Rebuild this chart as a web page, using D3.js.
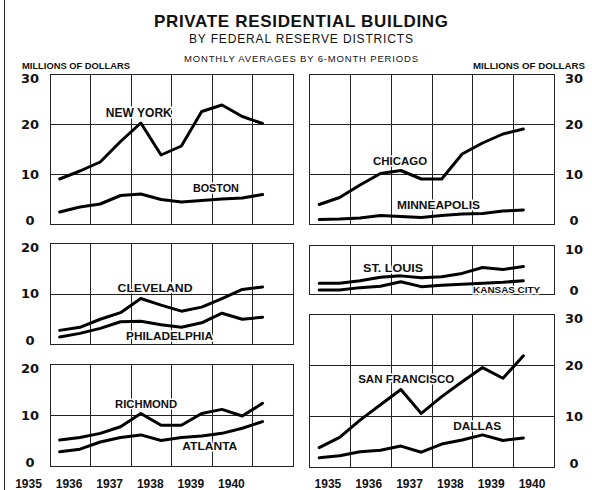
<!DOCTYPE html>
<meta charset="utf-8">
<head>
    <script src="https://d3js.org/d3.v7.min.js"></script>
    <style>
        body { margin: 0; background: #fff; }
        text { font-family: "Liberation Sans", Arial, sans-serif; fill: #111; }
        .grid { stroke: #222; stroke-width: 1; fill: none; shape-rendering: crispEdges; }
        .series { fill: none; stroke: #000; stroke-width: 3; stroke-linejoin: round; stroke-linecap: round; }
        .city { font-weight: bold; font-size: 11px; paint-order: stroke; stroke: #fff; stroke-width: 3px; }
        .num { font-family: "DejaVu Sans", sans-serif; font-weight: bold; font-size: 13px; }
        .year { font-weight: bold; font-size: 12px; }
    </style>
</head>
<body>
<div id="chart"></div>
<script>
    // half-year periods, plotted at the middle of each half
    var periods = [1935.25, 1935.75, 1936.25, 1936.75, 1937.25, 1937.75, 1938.25, 1938.75, 1939.25, 1939.75, 1940.25];
    var years = [1935, 1936, 1937, 1938, 1939, 1940];

    // millions of dollars, monthly averages
    var newYork      = [9.0, 10.6, 12.4, 16.5, 20.2, 13.8, 15.6, 22.5, 23.8, 21.5, 20.1];
    var boston       = [2.4, 3.4, 4.0, 5.7, 6.0, 4.9, 4.4, 4.7, 5.0, 5.2, 5.9];
    var cleveland    = [2.7, 3.3, 4.9, 6.2, 9.0, 7.7, 6.5, 7.3, 9.0, 10.8, 11.3];
    var philadelphia = [1.4, 2.1, 3.1, 4.4, 4.5, 3.8, 3.3, 4.2, 6.1, 4.9, 5.3];
    var richmond     = [5.1, 5.6, 6.4, 7.7, 10.3, 8.0, 8.0, 10.3, 11.1, 9.8, 12.3];
    var atlanta      = [2.8, 3.3, 4.7, 5.6, 6.1, 5.0, 5.6, 5.9, 6.4, 7.4, 8.7];
    var chicago      = [3.9, 5.3, 7.8, 10.1, 10.7, 9.0, 9.0, 14.0, 16.2, 18.0, 19.0];
    var minneapolis  = [0.9, 1.0, 1.2, 1.7, 1.5, 1.3, 1.7, 2.0, 2.1, 2.6, 2.8];
    var stLouis      = [2.2, 2.2, 2.7, 3.4, 3.7, 3.3, 3.5, 4.2, 5.4, 5.0, 5.6];
    var kansasCity   = [0.8, 0.8, 1.3, 1.6, 2.5, 1.5, 1.8, 2.0, 2.2, 2.4, 2.7];
    var sanFrancisco = [3.8, 5.8, 9.2, 12.2, 15.2, 10.5, 13.8, 16.7, 19.5, 17.4, 21.8];
    var dallas       = [1.8, 2.2, 3.0, 3.3, 4.1, 2.9, 4.5, 5.3, 6.3, 5.2, 5.7];

    var width = 592, height = 490;

    var svg = d3.select("#chart").append("svg")
        .attr("width", width)
        .attr("height", height);

    // page edge of the scanned sheet
    svg.append("line").attr("class", "grid")
        .attr("x1", 4.5).attr("x2", 4.5).attr("y1", 0).attr("y2", height);

    // titles
    svg.append("text").attr("x", 301).attr("y", 26.5).attr("text-anchor", "middle")
        .attr("textLength", 294).attr("lengthAdjust", "spacing")
        .style("font-size", "17px").style("font-weight", "bold")
        .text("PRIVATE  RESIDENTIAL  BUILDING");
    svg.append("text").attr("x", 301).attr("y", 42.5).attr("text-anchor", "middle")
        .attr("textLength", 224).attr("lengthAdjust", "spacing")
        .style("font-size", "12px")
        .text("BY FEDERAL RESERVE DISTRICTS");
    svg.append("text").attr("x", 301).attr("y", 62).attr("text-anchor", "middle")
        .attr("textLength", 234).attr("lengthAdjust", "spacing")
        .style("font-size", "9.5px")
        .text("MONTHLY AVERAGES BY 6-MONTH PERIODS");
    svg.append("text").attr("x", 22).attr("y", 68.5)
        .attr("textLength", 108).attr("lengthAdjust", "spacingAndGlyphs")
        .style("font-size", "8.5px").style("font-weight", "bold")
        .text("MILLIONS OF DOLLARS");
    svg.append("text").attr("x", 473).attr("y", 68.5)
        .attr("textLength", 112).attr("lengthAdjust", "spacingAndGlyphs")
        .style("font-size", "8.5px").style("font-weight", "bold")
        .text("MILLIONS OF DOLLARS");

    // x scales: one column per year, 1935 to 1941
    var xLeft = d3.scaleLinear().domain([1935, 1941]).range([49.5, 293]);
    var xRight = d3.scaleLinear().domain([1935, 1941]).range([309, 554]);

    var panels = [
        { x: xLeft, range: [224, 74], max: 30, series: [newYork, boston],
          labels: [["NEW YORK", 1937.2, 21.4, 66, 12], ["BOSTON", 1939.1, 6.4, 46, 11]] },
        { x: xLeft, range: [344, 243], max: 20, series: [cleveland, philadelphia],
          labels: [["CLEVELAND", 1937.6, 10.2, 75, 11], ["PHILADELPHIA", 1937.96, 0.8, 87, 11]] },
        { x: xLeft, range: [466, 364], max: 20, series: [richmond, atlanta],
          labels: [["RICHMOND", 1937.38, 11.3, 62, 11], ["ATLANTA", 1938.95, 3.1, 55, 11]] },
        { x: xRight, range: [224, 74], max: 30, series: [chicago, minneapolis],
          labels: [["CHICAGO", 1937.23, 11.8, 54, 11], ["MINNEAPOLIS", 1938.17, 3.1, 83, 11]] },
        { x: xRight, range: [294, 245], max: 10, series: [stLouis, kansasCity],
          labels: [["ST. LOUIS", 1937.06, 4.4, 60, 11], ["KANSAS CITY", 1939.84, 0.15, 67, 9.5]] },
        { x: xRight, range: [467, 314], max: 30, series: [sanFrancisco, dallas],
          labels: [["SAN FRANCISCO", 1937.38, 16.4, 96, 11], ["DALLAS", 1939.12, 7.3, 48, 11]] }
    ];

    panels.forEach(function (p) {
        var x = p.x;
        var y = d3.scaleLinear().domain([0, p.max]).range(p.range);
        var g = svg.append("g");
        var ticks = d3.range(0, p.max + 1, 10);
        var x0 = x(1935), x1 = x(1941);

        // border
        g.append("rect").attr("class", "grid")
            .attr("x", Math.round(x0) + 0.5).attr("y", Math.round(y(p.max)) + 0.5)
            .attr("width", Math.round(x1) - Math.round(x0))
            .attr("height", Math.round(y(0)) - Math.round(y(p.max)));

        // vertical grid at year boundaries
        g.selectAll(".vg").data(years.slice(1)).enter().append("line")
            .attr("class", "grid")
            .attr("x1", function (d) { return Math.round(x(d)) + 0.5; })
            .attr("x2", function (d) { return Math.round(x(d)) + 0.5; })
            .attr("y1", y(p.max)).attr("y2", y(0));

        // horizontal grid
        g.selectAll(".hg").data(ticks.slice(1, -1)).enter().append("line")
            .attr("class", "grid")
            .attr("x1", x0).attr("x2", x1)
            .attr("y1", function (d) { return Math.round(y(d)) + 0.5; })
            .attr("y2", function (d) { return Math.round(y(d)) + 0.5; });

        // value labels on the outer side
        var lx = x === xLeft ? 30 : 574;
        g.selectAll(".num").data(ticks).enter().append("text")
            .attr("class", "num")
            .attr("x", lx)
            .attr("y", function (d) { return y(d) + (d === p.max ? 4 : d === 0 ? -4 : 0); })
            .attr("dy", "0.36em")
            .attr("text-anchor", "middle")
            .text(function (d) { return d; });

        // district names
        g.selectAll(".city").data(p.labels).enter().append("text")
            .attr("class", "city")
            .attr("x", function (d) { return x(d[1]); })
            .attr("y", function (d) { return y(d[2]); })
            .attr("text-anchor", "middle")
            .attr("textLength", function (d) { return d[3]; })
            .attr("lengthAdjust", "spacingAndGlyphs")
            .style("font-size", function (d) { return d[4] + "px"; })
            .text(function (d) { return d[0]; });

        // lines
        var line = d3.line()
            .x(function (d, i) { return x(periods[i]); })
            .y(function (d) { return y(d); });
        g.selectAll(".series").data(p.series).enter().append("path")
            .attr("class", "series")
            .attr("d", line);
    });

    // year labels under the bottom panels
    var axisL = svg.append("g")
        .attr("transform", "translate(" + (xLeft(1935) - xLeft(1935.53)) + ",476)")
        .call(d3.axisBottom(xLeft).tickValues(years).tickSize(0).tickFormat(d3.format("d")));
    var axisR = svg.append("g")
        .attr("transform", "translate(" + (xRight(1935.45) - xRight(1935)) + ",476)")
        .call(d3.axisBottom(xRight).tickValues(years).tickSize(0).tickFormat(d3.format("d")));
    [axisL, axisR].forEach(function (a) {
        a.select(".domain").remove();
        a.selectAll("text").attr("class", "year").attr("fill", "#111");
    });
</script>
</body>
